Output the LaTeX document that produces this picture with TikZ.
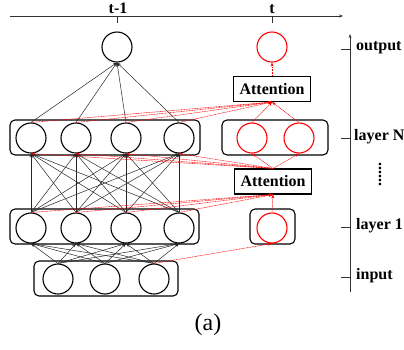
\documentclass[tikz,border=0pt]{standalone}
\usepackage{fontspec}
\setmainfont{Liberation Serif}
\usetikzlibrary{arrows.meta}
\tikzset{
  neuron/.style={circle,draw,line width=1.1pt,minimum size=30pt,inner sep=0pt},
  rneuron/.style={neuron,draw=red},
  layerbox/.style={draw,rounded corners=5pt,line width=1.1pt,inner sep=0pt,minimum height=35pt},
  attbox/.style={draw,fill=white,line width=1.1pt,font=\fontsize{16}{18}\selectfont\bfseries,
    minimum width=77pt,minimum height=25pt,inner sep=0pt},
  link/.style={line width=0.5pt,black!85,-{Stealth[length=4pt,width=3pt]}},
  rlink/.style={link,red,dash pattern=on 1pt off 0.6pt},
  lab/.style={font=\fontsize{16}{18}\selectfont\bfseries,inner sep=0pt},
  axis/.style={line width=0.8pt,black!80}
}
\begin{document}
\begin{tikzpicture}[x=1pt,y=-1pt]
      \useasboundingbox (0,0) rectangle (404,349);
      % layer boxes
      \draw
        (105,137.5) node[layerbox,minimum width=190pt] (boxN){}
        (275,137.5) node[layerbox,minimum width=106pt] (boxNr){}
        (104.5,226.5) node[layerbox,minimum width=189pt] (box1){}
        (272.5,226.5) node[layerbox,minimum width=45pt] (box1r){}
        (106,278.5) node[layerbox,minimum width=144pt] (boxin){};
      % neurons
      \draw
        (117,47) node[neuron] (o){}
        (272,47) node[rneuron] (ro){}
        (31,138) node[neuron] (n1){}
        (76,138) node[neuron] (n2){}
        (126,138) node[neuron] (n3){}
        (179,138) node[neuron] (n4){}
        (252,138) node[rneuron] (rn1){}
        (299,138) node[rneuron] (rn2){}
        (31,228) node[neuron] (l1){}
        (76,228) node[neuron] (l2){}
        (126,228) node[neuron] (l3){}
        (179,228) node[neuron] (l4){}
        (272,228) node[rneuron] (rl){}
        (58,279) node[neuron] (i1){}
        (105,279) node[neuron] (i2){}
        (154,279) node[neuron] (i3){}
        (272,89) node[attbox] (att1){Attention}
        (273,181.5) node[attbox] (att2){Attention};
      % time axis
      \coordinate (tl) at (10,16);
      \coordinate (tr) at (343,16);
      \draw[axis,-{Stealth[length=4pt,width=3pt]}] (tl) -- (tr);
      \draw[axis] (117,16) -- (117,23) (272,16) -- (272,23);
      \node[lab,anchor=base] (tprev) at (118,13) {t-1};
      \node[lab,anchor=base] (tnow) at (272,13) {t};
      % layer axis
      \coordinate (lb) at (350,292);
      \coordinate (lt) at (350,34);
      \draw[axis,-{Stealth[length=4pt,width=3pt]}] (lb) -- (lt);
      \draw[axis] (341,49) -- (350,49) (341,138) -- (350,138)
        (341,227) -- (350,227) (341,277) -- (350,277);
      \node[lab,anchor=west] (lout) at (356,48) {output};
      \node[lab,anchor=west] (lN) at (354,137) {layer N};
      \node[lab,anchor=west] (l1lab) at (356,226) {layer 1};
      \node[lab,anchor=west] (lin) at (356,276) {input};
      \node[lab,rotate=90] (ldots) at (380,174) {......};
      \node[font=\fontsize{24}{28}\selectfont] (cap) at (208,325) {(a)};
      \begin{scope}[link]
        \draw (n1.north) to (o.south);
        \draw (n2.north) to (o.south);
        \draw (n3.north) to (o.south);
        \draw (n4.north) to (o.south);
        \draw (l1.north) to (n1.south);
        \draw (l1.north) to (n2.south);
        \draw (l1.north) to (n3.south);
        \draw (l1.north) to (n4.south);
        \draw (l2.north) to (n1.south);
        \draw (l2.north) to (n2.south);
        \draw (l2.north) to (n3.south);
        \draw (l2.north) to (n4.south);
        \draw (l3.north) to (n1.south);
        \draw (l3.north) to (n2.south);
        \draw (l3.north) to (n3.south);
        \draw (l3.north) to (n4.south);
        \draw (l4.north) to (n1.south);
        \draw (l4.north) to (n2.south);
        \draw (l4.north) to (n3.south);
        \draw (l4.north) to (n4.south);
        \draw (i1.north) to (l1.south);
        \draw (i1.north) to (l2.south);
        \draw (i1.north) to (l3.south);
        \draw (i1.north) to (l4.south);
        \draw (i2.north) to (l1.south);
        \draw (i2.north) to (l2.south);
        \draw (i2.north) to (l3.south);
        \draw (i2.north) to (l4.south);
        \draw (i3.north) to (l1.south);
        \draw (i3.north) to (l2.south);
        \draw (i3.north) to (l3.south);
        \draw (i3.north) to (l4.south);
      \end{scope}
      \begin{scope}[rlink]
        \draw (n1.north) to (att1.south);
        \draw (n2.north) to (att1.south);
        \draw (n3.north) to (att1.south);
        \draw (n4.north) to (att1.south);
        \draw (rn1.north) to (att1.south);
        \draw (rn2.north) to (att1.south);
        \draw (att1.north) to (ro.south);
        \draw (att2.north) to (n1.south);
        \draw (att2.north) to (n2.south);
        \draw (att2.north) to (n3.south);
        \draw (att2.north) to (n4.south);
        \draw (att2.north) to (rn1.south);
        \draw (att2.north) to (rn2.south);
        \draw (l1.north) to (att2.south);
        \draw (l2.north) to (att2.south);
        \draw (l3.north) to (att2.south);
        \draw (l4.north) to (att2.south);
        \draw (rl.north) to (att2.south);
        \draw (i3.north) to (rl.south);
      \end{scope}
    \end{tikzpicture}
\end{document}
